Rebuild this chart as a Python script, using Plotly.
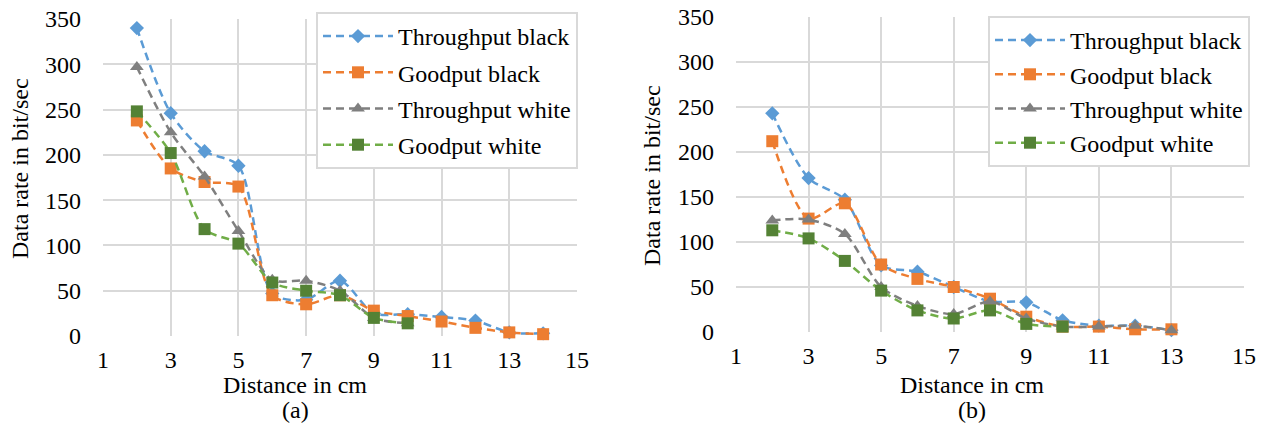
import plotly.graph_objects as go

# ---- data ----
a_x = [2, 3, 4, 5, 6, 7, 8, 9, 10, 11, 12, 13, 14]
a_tp_black = [340, 246, 204, 188, 47, 40, 61, 25, 24, 21, 17, 4, 3]
a_gp_black = [238, 185, 170, 165, 45, 35, 45, 28, 22, 16, 9, 4, 2]
a_x_white = [2, 3, 4, 5, 6, 7, 8, 9, 10]
a_tp_white = [297, 225, 176, 116, 62, 61, 50, 20, 14]
a_gp_white = [248, 202, 118, 102, 59, 50, 45, 20, 14]

b_x = [2, 3, 4, 5, 6, 7, 8, 9, 10, 11, 12, 13]
b_tp_black = [243, 171, 147, 74, 67, 50, 34, 33, 13, 7, 7, 2]
b_gp_black = [212, 126, 143, 75, 59, 50, 37, 17, 6, 6, 3, 3]
b_tp_white = [124, 125, 109, 50, 29, 20, 34, 15, 6, 6, 7, 2]
b_x_gw = [2, 3, 4, 5, 6, 7, 8, 9, 10]
b_gp_white = [113, 104, 79, 46, 24, 15, 24, 9, 6]

names = ["Throughput black", "Goodput black", "Throughput white", "Goodput white"]
x_ticks = [1, 3, 5, 7, 9, 11, 13, 15]

FONT = "Liberation Serif"
FS = 24
line_cols = ["#5B9BD5", "#ED7D31", "#7F7F7F", "#70AD47"]
mark_cols = ["#5B9BD5", "#ED7D31", "#7F7F7F", "#548235"]
symbols = ["diamond", "square", "triangle-up", "square"]
msizes = [11, 12, 12, 12]

# page has an 8px body margin: figure is W x H, offset by 8px
W, H, OFF = 1258, 417, 8


def fx(px):
    return (px - OFF) / W


def fy(py):
    return (H - (py - OFF)) / H


fig = go.Figure()

panels = [
    ("x", "y", "legend", [(a_x, a_tp_black), (a_x, a_gp_black), (a_x_white, a_tp_white), (a_x_white, a_gp_white)]),
    ("x2", "y2", "legend2", [(b_x, b_tp_black), (b_x, b_gp_black), (b_x, b_tp_white), (b_x_gw, b_gp_white)]),
]

for xa, ya, leg, series in panels:
    for i, (xs, ys) in enumerate(series):
        fig.add_trace(go.Scatter(
            x=xs, y=ys, name=names[i], mode="lines+markers",
            xaxis=xa, yaxis=ya, legend=leg, legendgroup=leg + str(i),
            line=dict(color=line_cols[i], width=2.5, dash="8px,5px", shape="spline", smoothing=0.8),
            marker=dict(symbol=symbols[i], size=msizes[i], color=mark_cols[i]),
            cliponaxis=False,
        ))

axis_common = dict(
    showgrid=True, gridcolor="#D9D9D9", gridwidth=2,
    zeroline=False, showline=False, ticks="", automargin=False,
    ticklabeloverflow="allow",
    tickfont=dict(family=FONT, size=FS, color="black"),
)

fig.update_layout(
    width=W, height=H,
    margin=dict(l=0, r=0, t=0, b=0, autoexpand=False),
    paper_bgcolor="white", plot_bgcolor="white",
    font=dict(family=FONT, size=FS, color="black"),
    showlegend=True,
    xaxis=dict(domain=[fx(103), fx(577)], range=[1, 15], tickvals=x_ticks, anchor="y",
               ticklabelstandoff=7, **axis_common),
    yaxis=dict(domain=[fy(336), fy(19)], range=[0, 350], dtick=50, anchor="x",
               ticklabelstandoff=21, **axis_common),
    xaxis2=dict(domain=[fx(736), fx(1244)], range=[1, 15], tickvals=x_ticks, anchor="y2",
                ticklabelstandoff=7, **axis_common),
    yaxis2=dict(domain=[fy(332), fy(17)], range=[0, 350], dtick=50, anchor="x2",
                ticklabelstandoff=21, **axis_common),
    legend=dict(x=fx(578), xanchor="right", y=fy(12), yanchor="top",
                bgcolor="white", bordercolor="#D9D9D9", borderwidth=2, itemwidth=70,
                font=dict(family=FONT, size=FS, color="black"), tracegroupgap=2),
    legend2=dict(x=fx(1250), xanchor="right", y=fy(16), yanchor="top",
                 bgcolor="white", bordercolor="#D9D9D9", borderwidth=2, itemwidth=70,
                 font=dict(family=FONT, size=FS, color="black"), tracegroupgap=0),
)

annos = [
    dict(text="Data rate in bit/sec", x=20, y=169, textangle=-90),
    dict(text="Data rate in bit/sec", x=652, y=176, textangle=-90),
    dict(text="Distance in cm", x=295, y=385, textangle=0),
    dict(text="Distance in cm", x=972, y=385, textangle=0),
    dict(text="(a)", x=295, y=410, textangle=0),
    dict(text="(b)", x=972, y=410, textangle=0),
]
for a in annos:
    fig.add_annotation(text=a["text"], x=fx(a["x"]), y=fy(a["y"]),
                       xref="paper", yref="paper", xanchor="center", yanchor="middle",
                       textangle=a["textangle"], showarrow=False,
                       font=dict(family=FONT, size=FS, color="black"))

fig.write_html("out.html")
